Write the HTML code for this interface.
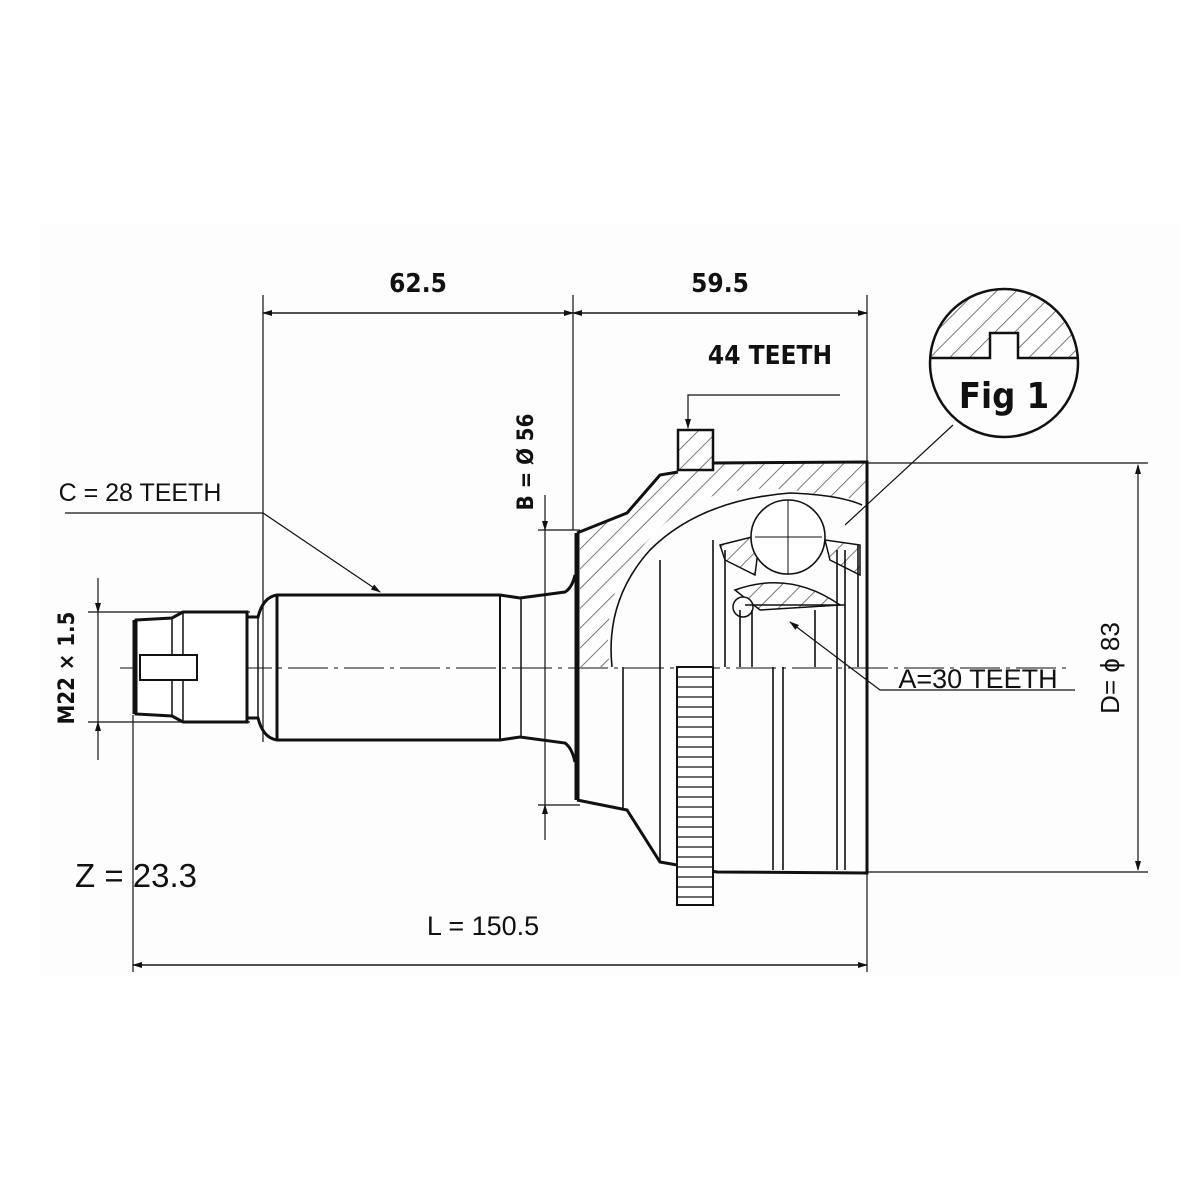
<!DOCTYPE html>
<html><head><meta charset="utf-8"><style>
html,body{margin:0;padding:0;background:#fff;}
svg{display:block;}
.t{font-family:"DejaVu Sans Condensed","DejaVu Sans",sans-serif;font-weight:bold;fill:#111;}
.a{font-family:"Liberation Sans",Arial,sans-serif;fill:#111;}
</style></head><body>
<svg width="1200" height="1200" viewBox="0 0 1200 1200" xmlns="http://www.w3.org/2000/svg">
<defs>
<pattern id="h" patternUnits="userSpaceOnUse" width="14" height="14" patternTransform="rotate(45)">
<rect width="14" height="14" fill="#fff"/><line x1="0" y1="0" x2="0" y2="14" stroke="#555" stroke-width="1.6"/>
</pattern>
<marker id="ar" markerWidth="10" markerHeight="8" refX="9" refY="4" orient="auto" markerUnits="userSpaceOnUse">
<path d="M0,1 L10,4 L0,7 z" fill="#111"/></marker>
</defs>
<rect x="40" y="225" width="1140" height="750" fill="#fdfdfd"/>
<g stroke="#111" fill="none" stroke-width="1.2">
<line x1="263" y1="295" x2="263" y2="742"/>
<line x1="573" y1="295" x2="573" y2="530"/>
<line x1="867" y1="295" x2="867" y2="462"/>
<line x1="133" y1="715" x2="133" y2="972"/>
<line x1="867" y1="872" x2="867" y2="972"/>
<line x1="867" y1="463" x2="1148" y2="463"/>
<line x1="867" y1="872" x2="1148" y2="872"/>
<line x1="88" y1="612" x2="250" y2="612"/>
<line x1="88" y1="722" x2="250" y2="722"/>
<line x1="538" y1="530" x2="580" y2="530"/>
<line x1="538" y1="805" x2="580" y2="805"/>
<line x1="573" y1="313" x2="263" y2="313" marker-end="url(#ar)"/>
<line x1="263" y1="313" x2="573" y2="313" marker-end="url(#ar)"/>
<line x1="573" y1="313" x2="867" y2="313" marker-end="url(#ar)"/>
<line x1="867" y1="313" x2="573" y2="313" marker-end="url(#ar)"/>
<line x1="133" y1="965" x2="867" y2="965" marker-end="url(#ar)"/>
<line x1="867" y1="965" x2="133" y2="965" marker-end="url(#ar)"/>
<line x1="1138" y1="668" x2="1138" y2="465" marker-end="url(#ar)"/>
<line x1="1138" y1="668" x2="1138" y2="870" marker-end="url(#ar)"/>
<line x1="98" y1="578" x2="98" y2="612" marker-end="url(#ar)"/>
<line x1="98" y1="760" x2="98" y2="722" marker-end="url(#ar)"/>
<line x1="98" y1="612" x2="98" y2="722"/>
<line x1="545" y1="495" x2="545" y2="530" marker-end="url(#ar)"/>
<line x1="545" y1="840" x2="545" y2="805" marker-end="url(#ar)"/>
<line x1="545" y1="530" x2="545" y2="805"/>
<polyline points="65,513 263,513 380,592" marker-end="url(#ar)"/>
<polyline points="840,395 688,395 688,428" marker-end="url(#ar)"/>
<polyline points="1075,690 880,690 790,622" marker-end="url(#ar)"/>
<line x1="953" y1="425" x2="845" y2="525"/>
<line x1="120" y1="668" x2="1070" y2="668" stroke-dasharray="40,6,4,6" stroke-width="1"/>
</g>
<g stroke="#111" fill="none" stroke-width="3">
<path d="M136,620 L172,618 L183,612 L247,612 L247,722 L183,722 L172,716 L136,714 Z" fill="#fff"/>
<line x1="135" y1="620" x2="135" y2="714" stroke-width="5"/>
<line x1="172" y1="618" x2="172" y2="716" stroke-width="1.5"/>
<line x1="183" y1="612" x2="183" y2="722" stroke-width="1.5"/>
<rect x="140" y="655" width="57" height="25" stroke-width="2" fill="#fff"/>
<path d="M247,617 L258,617 Q263,597 277,595 L500,595 L520,598 L565,592 Q572,588 575,575 M247,718 L258,718 Q263,738 277,740 L500,740 L520,737 L565,743 Q572,748 575,762"/>
<line x1="277" y1="595" x2="277" y2="740"/>
<line x1="500" y1="595" x2="500" y2="740" stroke-width="2"/>
<line x1="521" y1="597" x2="521" y2="738" stroke-width="1.5"/>
<line x1="258" y1="617" x2="258" y2="718" stroke-width="1.5"/>
</g>
<path d="M580,530 L627,513 L660,475 L678,472 L678,430 L713,430 L713,463 L867,462 L867,500 L820,495 Q760,480 700,500 Q640,530 612,600 Q605,640 610,667 L580,667 Z" fill="url(#h)" stroke="none"/>
<path d="M720,545 L760,535 L755,575 L725,560 Z M735,590 Q790,570 840,605 L760,610 Z M825,540 L860,545 L860,575 L830,560 Z" fill="url(#h)" stroke="#111" stroke-width="1.5"/>
<g stroke="#111" fill="none" stroke-width="3">
<path d="M577,533 L627,513 L660,475 L678,472"/>
<path d="M713,463 L867,462 L867,873 L717,872 L660,862 L627,810 L577,800"/>
<rect x="678" y="430" width="35" height="40" fill="url(#h)" stroke-width="2.5"/>
<line x1="577" y1="533" x2="577" y2="800" stroke-width="5"/>
<path d="M612,667 Q605,600 650,550 Q700,500 790,493 Q840,495 862,505" stroke-width="1.6"/>
<circle cx="788" cy="537" r="37" fill="#fff" stroke-width="1.6"/>
<line x1="755" y1="537" x2="822" y2="537" stroke-width="1"/>
<line x1="788" y1="500" x2="788" y2="575" stroke-width="1"/>
<circle cx="743" cy="607" r="10" fill="#fff" stroke-width="1.5"/>
<line x1="745" y1="605" x2="845" y2="605" stroke-width="1.5"/>
<g stroke-width="1.6">
<line x1="623" y1="667" x2="623" y2="810"/>
<line x1="660" y1="560" x2="660" y2="862"/>
<line x1="713" y1="540" x2="713" y2="872"/>
<line x1="725" y1="550" x2="725" y2="667"/>
<line x1="740" y1="610" x2="740" y2="667"/>
<line x1="752" y1="610" x2="752" y2="667"/>
<line x1="773" y1="667" x2="773" y2="870"/>
<line x1="783" y1="667" x2="783" y2="870"/>
<line x1="815" y1="610" x2="815" y2="667"/>
<line x1="837" y1="550" x2="837" y2="870"/>
<line x1="845" y1="550" x2="845" y2="870"/>
<line x1="858" y1="545" x2="858" y2="667"/>
</g>
<rect x="677" y="667" width="36" height="238" fill="#fff" stroke-width="2"/>
</g>
<g stroke="#111" stroke-width="1.3">
<line x1="677" y1="677" x2="713" y2="677"/><line x1="677" y1="687" x2="713" y2="687"/><line x1="677" y1="697" x2="713" y2="697"/><line x1="677" y1="707" x2="713" y2="707"/><line x1="677" y1="717" x2="713" y2="717"/><line x1="677" y1="727" x2="713" y2="727"/><line x1="677" y1="737" x2="713" y2="737"/><line x1="677" y1="747" x2="713" y2="747"/><line x1="677" y1="757" x2="713" y2="757"/><line x1="677" y1="767" x2="713" y2="767"/><line x1="677" y1="777" x2="713" y2="777"/><line x1="677" y1="787" x2="713" y2="787"/><line x1="677" y1="797" x2="713" y2="797"/><line x1="677" y1="807" x2="713" y2="807"/><line x1="677" y1="817" x2="713" y2="817"/><line x1="677" y1="827" x2="713" y2="827"/><line x1="677" y1="837" x2="713" y2="837"/><line x1="677" y1="847" x2="713" y2="847"/><line x1="677" y1="857" x2="713" y2="857"/><line x1="677" y1="867" x2="713" y2="867"/><line x1="677" y1="877" x2="713" y2="877"/><line x1="677" y1="887" x2="713" y2="887"/><line x1="677" y1="897" x2="713" y2="897"/>
</g>
<clipPath id="c"><circle cx="1004" cy="363" r="74"/></clipPath>
<path d="M925,358 L990,358 L990,333 L1018,333 L1018,358 L1085,358 L1085,280 L925,280 Z" fill="url(#h)" clip-path="url(#c)"/>
<path d="M930,358 L990,358 L990,333 L1018,333 L1018,358 L1078,358" fill="none" stroke="#111" stroke-width="2.5"/>
<circle cx="1004" cy="363" r="74" fill="none" stroke="#111" stroke-width="2.5"/>
<text class="t" x="418" y="292" font-size="26" text-anchor="middle">62.5</text>
<text class="t" x="720" y="292" font-size="26" text-anchor="middle">59.5</text>
<text class="t" x="770" y="364" font-size="26" text-anchor="middle">44 TEETH</text>
<text class="t" x="1004" y="408" font-size="36" text-anchor="middle">Fig 1</text>
<text class="a" x="140" y="501" font-size="25" text-anchor="middle">C = 28 TEETH</text>
<text class="a" x="978" y="688" font-size="27" text-anchor="middle">A=30 TEETH</text>
<text class="a" x="75" y="887" font-size="33">Z = 23.3</text>
<text class="a" x="483" y="935" font-size="27" text-anchor="middle">L = 150.5</text>
<text class="t" font-size="22" text-anchor="middle" transform="translate(533,462) rotate(-90)">B = Ø 56</text>
<text class="t" font-size="22" text-anchor="middle" transform="translate(74,668) rotate(-90)">M22 × 1.5</text>
<text class="a" font-size="26" text-anchor="middle" transform="translate(1119,668) rotate(-90)">D= ɸ 83</text>
</svg>
</body></html>
